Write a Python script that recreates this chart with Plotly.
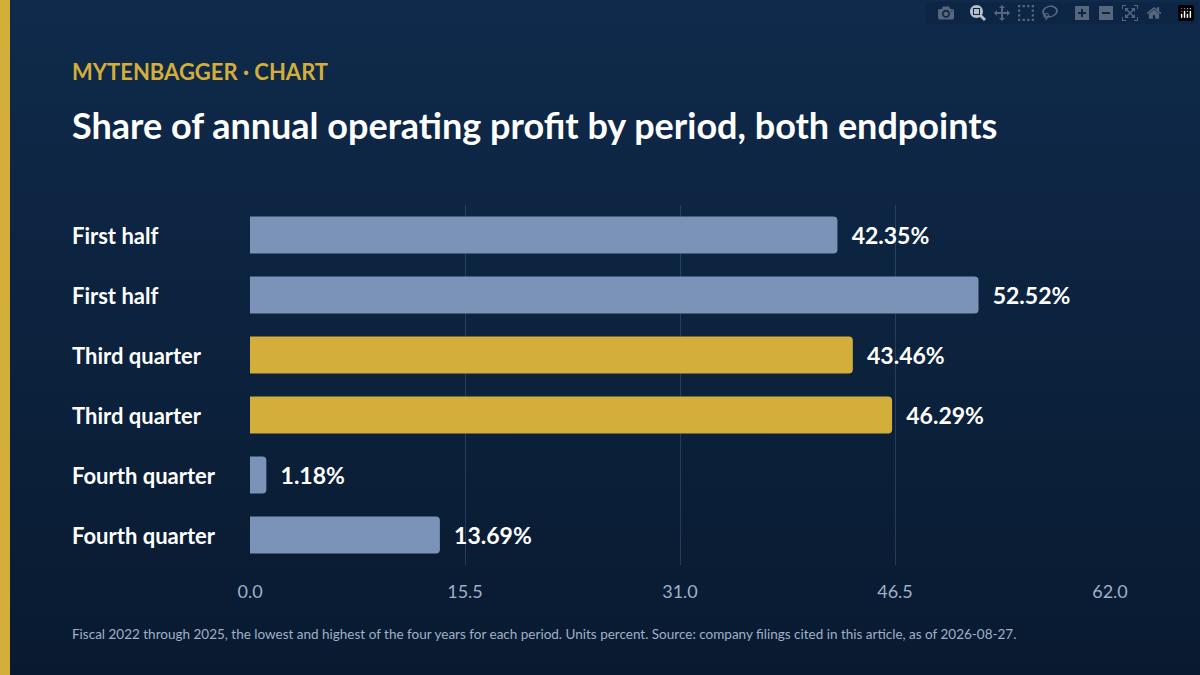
import plotly.graph_objects as go

labels = ["First half", "First half", "Third quarter", "Third quarter", "Fourth quarter", "Fourth quarter"]
values = [42.35, 52.52, 43.46, 46.29, 1.18, 13.69]
colors = ["#7b93b6", "#7b93b6", "#d4ae3a", "#d4ae3a", "#7b93b6", "#7b93b6"]
ticks = [0.0, 15.5, 31.0, 46.5, 62.0]

FONT = "Lato"
ypos = list(range(len(labels)))

fig = go.Figure(go.Bar(
    x=values, y=ypos, orientation="h", marker=dict(color=colors, cornerradius=4, line=dict(width=0)),
    width=0.62, text=[f"  {v:.2f}%" for v in values], textposition="outside",
    textfont=dict(family=FONT, size=23, color="#ffffff", weight="bold"), cliponaxis=False,
    hoverinfo="skip"))

L, R, T, B = 250, 90, 205, 110
pw = 1200 - L - R
ph = 675 - T - B
ann = []
for i, lab in enumerate(labels):
    ann.append(dict(x=(70 - L) / pw, xref="paper", y=i, yref="y", text=lab, showarrow=False,
                    xanchor="left", font=dict(family=FONT, size=22, color="#ffffff", weight="bold")))
ann += [
    dict(x=(70 - L) / pw, xref="paper", y=(675 - B - 71) / ph, yref="paper", yanchor="middle",
         text="MYTENBAGGER · CHART", showarrow=False, xanchor="left",
         font=dict(family=FONT, size=22, color="#d4ae3a", weight="bold")),
    dict(x=(70 - L) / pw, xref="paper", y=(675 - B - 125) / ph, yref="paper", yanchor="middle",
         text="Share of annual operating profit by period, both endpoints", showarrow=False, xanchor="left",
         font=dict(family=FONT, size=36, color="#ffffff", weight="bold")),
    dict(x=(70 - L) / pw, xref="paper", y=(675 - B - 634) / ph, yref="paper", yanchor="middle",
         text="Fiscal 2022 through 2025, the lowest and highest of the four years for each period. Units percent. Source: company filings cited in this article, as of 2026-08-27.",
         showarrow=False, xanchor="left", font=dict(family=FONT, size=13.5, color="#9fb0c8")),
]

svg = ("data:image/svg+xml;utf8,<svg xmlns='http://www.w3.org/2000/svg' width='1200' height='675'>"
       "<defs><linearGradient id='g' x1='0' y1='0' x2='0' y2='1'>"
       "<stop offset='0' stop-color='%230f2a4b'/><stop offset='1' stop-color='%23091a30'/>"
       "</linearGradient></defs><rect width='1200' height='675' fill='url(%23g)'/></svg>")

fig.update_layout(
    width=1200, height=675, margin=dict(l=L, r=R, t=T, b=B),
    paper_bgcolor="#0c2140", plot_bgcolor="rgba(0,0,0,0)", showlegend=False,
    images=[dict(source=svg, xref="paper", yref="paper", x=-L / pw, y=1 + T / ph,
                 sizex=1200 / pw, sizey=675 / ph, sizing="stretch", layer="below",
                 xanchor="left", yanchor="top")],
    shapes=[dict(type="rect", xref="paper", yref="paper", x0=-L / pw, x1=(10 - L) / pw,
                 y0=-B / ph, y1=1 + T / ph, fillcolor="#d4ae3a", line=dict(width=0))],
    xaxis=dict(range=[0, 62], tickvals=ticks, ticktext=[f"{t:.1f}" for t in ticks], showgrid=True,
               gridcolor="rgba(120,150,190,0.25)", gridwidth=1, zeroline=False, showline=False,
               tickfont=dict(family=FONT, size=18, color="#9fb0c8"), ticklabelstandoff=14),
    yaxis=dict(range=[5.5, -0.5], showticklabels=False, showgrid=False, zeroline=False, tickvals=ypos),
    annotations=ann,
)
fig.write_html("out.html", post_script="document.body.style.margin='0';document.body.style.background='#091a30';")
